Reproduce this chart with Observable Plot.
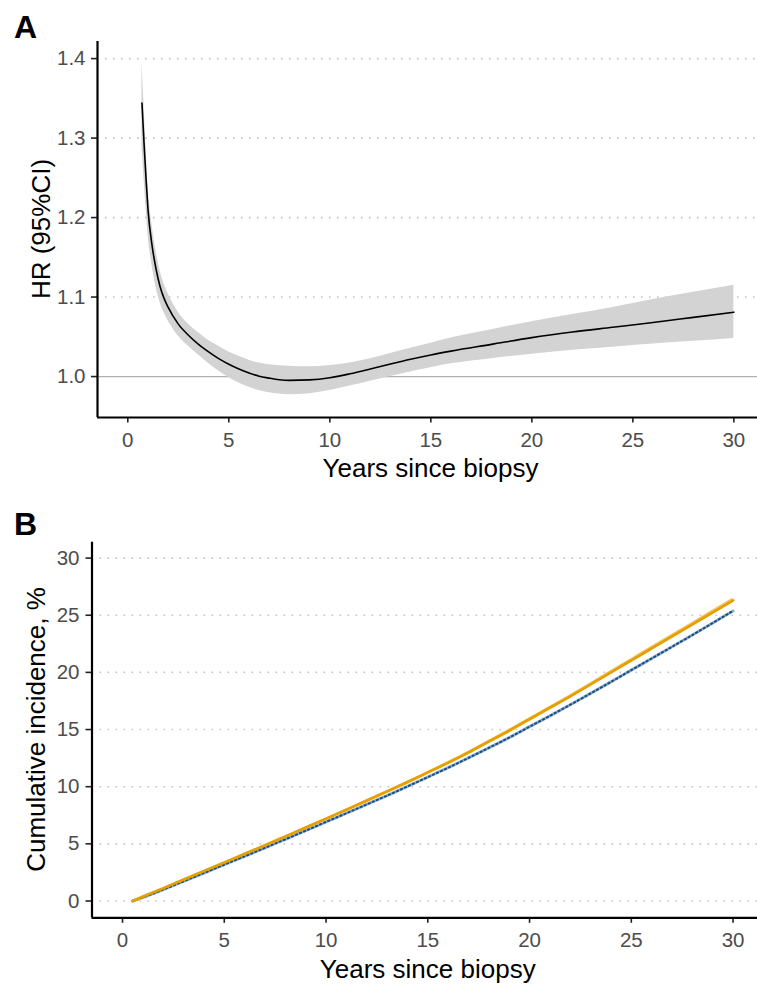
<!DOCTYPE html>
<html>
<head>
<meta charset="utf-8">
<script src="https://cdn.jsdelivr.net/npm/d3@7"></script>
<script src="https://cdn.jsdelivr.net/npm/@observablehq/plot@0.6"></script>
<style>
  html, body { margin: 0; padding: 0; background: #fff; }
  #wrap { position: relative; width: 757px; height: 984px; font-family: "Liberation Sans", Arial, sans-serif; }
  .panel-tag { position: absolute; left: 14px; font-weight: bold; font-size: 32px; line-height: 32px; color: #000; }
  #panelA, #panelB { position: absolute; left: 0; }
  #panelA { top: 0; }
  #panelB { top: 500px; }
</style>
</head>
<body>
<div id="wrap">
  <div id="panelA"></div>
  <div id="panelB"></div>
  <div class="panel-tag" style="top:11px;">A</div>
  <div class="panel-tag" style="top:508px;">B</div>
</div>
<script>
// ---------- Panel A: hazard ratio over time ----------
const hrYears = [0.7, 0.75, 0.8, 0.9, 1.0, 1.2, 1.4, 1.6, 1.8, 2.0, 2.5, 3.0, 3.5, 4.0, 4.5, 5.0, 5.5, 6.0, 6.5, 7.0, 7.5, 8.0, 9.0, 10, 11, 12, 13, 14, 15, 16, 18, 20, 22, 24, 26, 28, 30];
const hrEstimate = [1.344, 1.32, 1.295, 1.25, 1.21, 1.165, 1.135, 1.113, 1.098, 1.087, 1.066, 1.052, 1.0405, 1.031, 1.0225, 1.0155, 1.0095, 1.0045, 1.0005, 0.998, 0.996, 0.9952, 0.9958, 0.9985, 1.0035, 1.0095, 1.0158, 1.0218, 1.0272, 1.032, 1.0405, 1.049, 1.056, 1.062, 1.068, 1.0745, 1.081];
const hrLower = [1.29, 1.27, 1.25, 1.213, 1.179, 1.140, 1.112, 1.093, 1.080, 1.070, 1.051, 1.038, 1.027, 1.0165, 1.007, 0.9985, 0.992, 0.9865, 0.9825, 0.9795, 0.978, 0.9772, 0.9785, 0.9825, 0.988, 0.994, 1.000, 1.0058, 1.0112, 1.016, 1.0225, 1.028, 1.033, 1.037, 1.041, 1.0445, 1.048];
const hrUpper = [1.397, 1.37, 1.343, 1.289, 1.242, 1.191, 1.158, 1.133, 1.116, 1.104, 1.081, 1.066, 1.055, 1.0455, 1.038, 1.031, 1.0255, 1.0205, 1.017, 1.0148, 1.0135, 1.013, 1.0122, 1.0138, 1.0172, 1.0225, 1.029, 1.0355, 1.042, 1.0485, 1.059, 1.069, 1.078, 1.087, 1.097, 1.106, 1.115];
const hrTicks = [1.0, 1.1, 1.2, 1.3, 1.4];
const yearTicks = [0, 5, 10, 15, 20, 25, 30];

// ---------- Panel B: cumulative incidence ----------
const ciYears = [0.5, 1, 2, 3, 4, 5, 6, 7, 8, 9, 10, 11, 12, 13, 14, 15, 16, 17, 18, 19, 20, 21, 22, 23, 24, 25, 26, 27, 28, 29, 30];
const cumIncOrange = [0, 0.38, 1.12, 1.87, 2.62, 3.37, 4.12, 4.88, 5.65, 6.42, 7.2, 7.98, 8.78, 9.58, 10.4, 11.25, 12.1, 13.0, 13.95, 14.9, 15.9, 16.9, 17.9, 18.95, 20.0, 21.05, 22.1, 23.15, 24.2, 25.25, 26.3];
const cumIncBlue = [0, 0.31, 1.0, 1.72, 2.45, 3.18, 3.91, 4.65, 5.4, 6.15, 6.92, 7.68, 8.45, 9.22, 10.02, 10.84, 11.66, 12.52, 13.4, 14.3, 15.25, 16.2, 17.17, 18.16, 19.17, 20.2, 21.22, 22.24, 23.27, 24.32, 25.38];
const ciTicks = [0, 5, 10, 15, 20, 25, 30];

const hrData = hrYears.map((t, i) => ({t, est: hrEstimate[i], lo: hrLower[i], hi: hrUpper[i]}));
const orangeData = ciYears.map((t, i) => ({t, v: cumIncOrange[i], lo: cumIncOrange[i] * 0.992, hi: cumIncOrange[i] * 1.008}));
const blueData = ciYears.map((t, i) => ({t, v: cumIncBlue[i]}));

const FONT = "'Liberation Sans', Arial, sans-serif";
const TICK_FILL = "#4d4d4d";
const TICK_FONT = 20.5;
const GRID = {stroke: "#c4c4c4", strokeWidth: 1.6, strokeDasharray: "1.6 6.4"};

function addYTitle(svg, text, x, y) {
  d3.select(svg).append("text")
    .attr("transform", `translate(${x},${y}) rotate(-90)`)
    .attr("text-anchor", "middle")
    .attr("font-family", FONT)
    .attr("font-size", 26)
    .attr("fill", "#000")
    .text(text);
}

// Panel A
const axA = {x: [-1.5, 31.17], y: [0.9485, 1.4215]};
const plotA = Plot.plot({
  width: 757, height: 500,
  marginTop: 41, marginBottom: 83, marginLeft: 97, marginRight: 0,
  style: {fontFamily: FONT, background: "white", overflow: "visible"},
  x: {domain: axA.x},
  y: {domain: axA.y},
  marks: [
    Plot.ruleY(hrTicks.filter(d => d !== 1.0), GRID),
    Plot.ruleY([1.0], {stroke: "#b0b0b0", strokeWidth: 1.3}),
    Plot.areaY(hrData, {x: "t", y1: "lo", y2: "hi", fill: "#d3d3d3", curve: "monotone-x"}),
    Plot.line(hrData, {x: "t", y: "est", stroke: "#000", strokeWidth: 1.6, curve: "monotone-x"}),
    Plot.axisX({ticks: yearTicks, tickSize: 5.5, tickPadding: 9, fontSize: TICK_FONT, fill: TICK_FILL, stroke: "#222", strokeWidth: 1.6, label: null}),
    Plot.axisY({ticks: hrTicks, tickFormat: d3.format(".1f"), tickSize: 6, tickPadding: 6, fontSize: TICK_FONT, fill: TICK_FILL, stroke: "#222", strokeWidth: 1.6, label: null}),
    Plot.ruleX([axA.x[0]], {stroke: "#000", strokeWidth: 2.2}),
    Plot.ruleY([axA.y[0]], {stroke: "#000", strokeWidth: 2.2}),
    Plot.text(["Years since biopsy"], {frameAnchor: "bottom", lineAnchor: "middle", dy: 51.5, dx: 3, fontSize: 26, fill: "#000"})
  ]
});
addYTitle(plotA, "HR (95%CI)", 50, 229);
document.getElementById("panelA").appendChild(plotA);

// Panel B
const axB = {x: [-1.5, 31.2], y: [-1.47, 31.39]};
const plotB = Plot.plot({
  width: 757, height: 484,
  marginTop: 41.7, marginBottom: 66.7, marginLeft: 91.5, marginRight: 0,
  style: {fontFamily: FONT, background: "white", overflow: "visible"},
  x: {domain: axB.x},
  y: {domain: axB.y},
  marks: [
    Plot.ruleY(ciTicks, GRID),
    Plot.line(blueData, {x: "t", y: "v", stroke: "#8fb0d2", strokeWidth: 3, curve: "monotone-x"}),
    Plot.line(blueData, {x: "t", y: "v", stroke: "#1d4f82", strokeWidth: 2, strokeDasharray: "1.4 3", curve: "monotone-x"}),
    Plot.areaY(orangeData, {x: "t", y1: "lo", y2: "hi", fill: "#f6c56a", curve: "monotone-x"}),
    Plot.line(orangeData, {x: "t", y: "v", stroke: "#e69f00", strokeWidth: 2.8, curve: "monotone-x"}),
    Plot.axisX({ticks: yearTicks, tickSize: 5.5, tickPadding: 9, fontSize: TICK_FONT, fill: TICK_FILL, stroke: "#222", strokeWidth: 1.6, label: null}),
    Plot.axisY({ticks: ciTicks, tickSize: 6, tickPadding: 6.5, fontSize: TICK_FONT, fill: TICK_FILL, stroke: "#222", strokeWidth: 1.6, label: null}),
    Plot.ruleX([axB.x[0]], {stroke: "#000", strokeWidth: 2.2}),
    Plot.ruleY([axB.y[0]], {stroke: "#000", strokeWidth: 2.2}),
    Plot.text(["Years since biopsy"], {frameAnchor: "bottom", lineAnchor: "middle", dy: 51.5, dx: 3, fontSize: 26, fill: "#000"})
  ]
});
addYTitle(plotB, "Cumulative incidence, %", 45, 229.5);
document.getElementById("panelB").appendChild(plotB);
</script>
</body>
</html>
